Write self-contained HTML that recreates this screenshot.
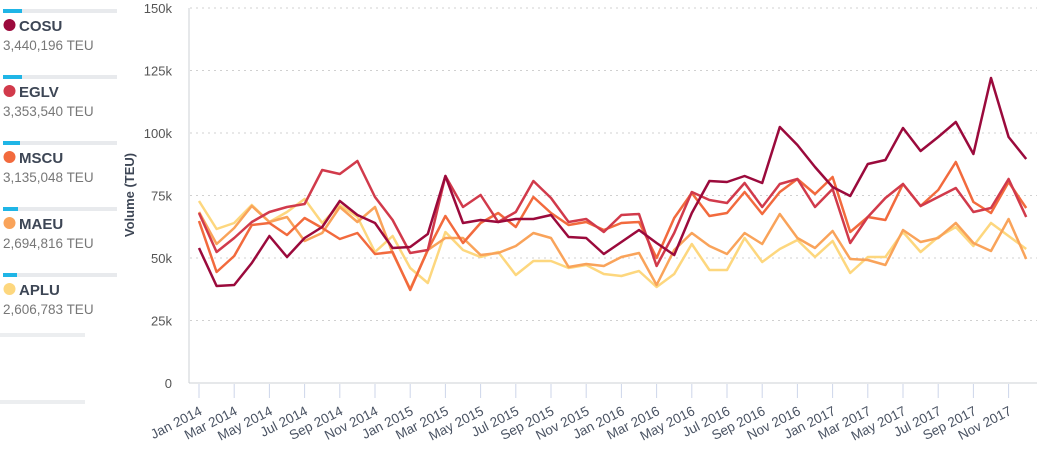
<!DOCTYPE html>
<html><head><meta charset="utf-8"><style>
body{margin:0;background:#fff;width:1037px;height:460px;overflow:hidden;font-family:"Liberation Sans",sans-serif}
svg{position:absolute;left:0;top:0}
</style></head><body>
<svg id="s" width="1037" height="460" xmlns="http://www.w3.org/2000/svg">
</svg>
<script>
var s=document.getElementById('s'),h='';
var leg=[["COSU","3,440,196","#9b0a3c",22],["EGLV","3,353,540","#d13a4b",22],["MSCU","3,135,048","#f26a3d",20],["MAEU","2,694,816","#f9a35a",18],["APLU","2,606,783","#fdd77e",17]];
leg.forEach(function(l,i){var y=11+i*66;
h+='<line x1="3" y1="'+y+'" x2="117" y2="'+y+'" stroke="#e8eaed" stroke-width="4"/>';
h+='<line x1="3" y1="'+y+'" x2="'+l[3]+'" y2="'+y+'" stroke="#1fb5e6" stroke-width="4"/>';
h+='<circle cx="9.5" cy="'+(y+14)+'" r="6" fill="'+l[2]+'"/>';
h+='<text x="19" y="'+(y+20)+'" font-size="15" font-weight="bold" fill="#3d4655">'+l[0]+'</text>';
h+='<text x="3" y="'+(y+39)+'" font-size="13.5" fill="#777">'+l[1]+' TEU</text>';});
h+='<line x1="0" y1="335" x2="85" y2="335" stroke="#eceef0" stroke-width="4"/>';
h+='<line x1="0" y1="402" x2="85" y2="402" stroke="#eceef0" stroke-width="4"/>';
var yl=["150k","125k","100k","75k","50k","25k","0"];
for(var i=0;i<7;i++){var y=8+i*62.5;
if(i<6)h+='<line x1="190" y1="'+y+'" x2="1037" y2="'+y+'" stroke="#d0d0d0" stroke-dasharray="2,4"/>';
h+='<text x="172" y="'+(y+5)+'" font-size="13" fill="#555" text-anchor="end">'+yl[i]+'</text>';}
h+='<line x1="189" y1="8" x2="189" y2="383" stroke="#ccd0d6"/>';
h+='<line x1="189" y1="383" x2="1037" y2="383" stroke="#ccd0d6"/>';
h+='<text transform="translate(134,195) rotate(-90)" font-size="13" font-weight="bold" fill="#3d4655" text-anchor="middle">Volume (TEU)</text>';
var m=["Jan","Mar","May","Jul","Sep","Nov"];
for(var k=0;k<24;k++){var x=199+k*2*17.6;
h+='<line x1="'+x+'" y1="384" x2="'+x+'" y2="398" stroke="#cdd6ea"/>';
h+='<text transform="translate('+(x+4)+',414) rotate(-27)" font-size="13.5" fill="#4a5363" text-anchor="end">'+m[k%6]+' '+(2014+Math.floor(k/6))+'</text>';}
var D=[
["#fdd77e",[201,229,223,205,222,212,199,223,205,217,252,236,268,283,232,250,257,252,275,261,261,268,265,274,276,271,287,274,244,270,270,238,262,249,240,257,241,273,257,257,232,252,237,227,246,223,236,249]],
["#f9a35a",[212,244,228,206,222,217,241,233,207,222,207,253,289,250,238,238,255,253,246,233,238,267,264,266,257,253,285,250,233,246,254,233,244,214,238,248,231,259,260,265,230,242,238,223,243,251,219,259]],
["#f26a3d",[221,272,256,225,223,235,218,228,239,233,254,252,290,250,216,243,223,213,227,197,213,225,222,230,223,222,258,218,193,216,213,192,214,192,179,194,177,232,217,220,184,206,190,162,202,213,182,208]],
["#d13a4b",[213,252,238,222,212,207,204,170,174,161,197,220,253,250,176,207,195,222,212,181,198,222,219,232,215,214,266,233,192,200,203,183,207,184,179,207,189,243,217,198,184,206,197,188,212,208,179,217]],
["#9b0a3c",[248,286,285,263,236,257,238,227,201,215,223,248,247,234,176,223,220,222,219,219,215,237,238,254,242,230,243,255,213,181,182,176,183,127,145,167,187,196,164,160,128,151,137,122,154,78,137,159]]];
D.forEach(function(d){var p=d[1].map(function(v,i){return (199+i*17.6).toFixed(1)+','+v}).join(' ');
h+='<polyline points="'+p+'" fill="none" stroke="'+d[0]+'" stroke-width="2.5" stroke-linejoin="round"/>';});
s.innerHTML=h;
</script>
</body></html>
